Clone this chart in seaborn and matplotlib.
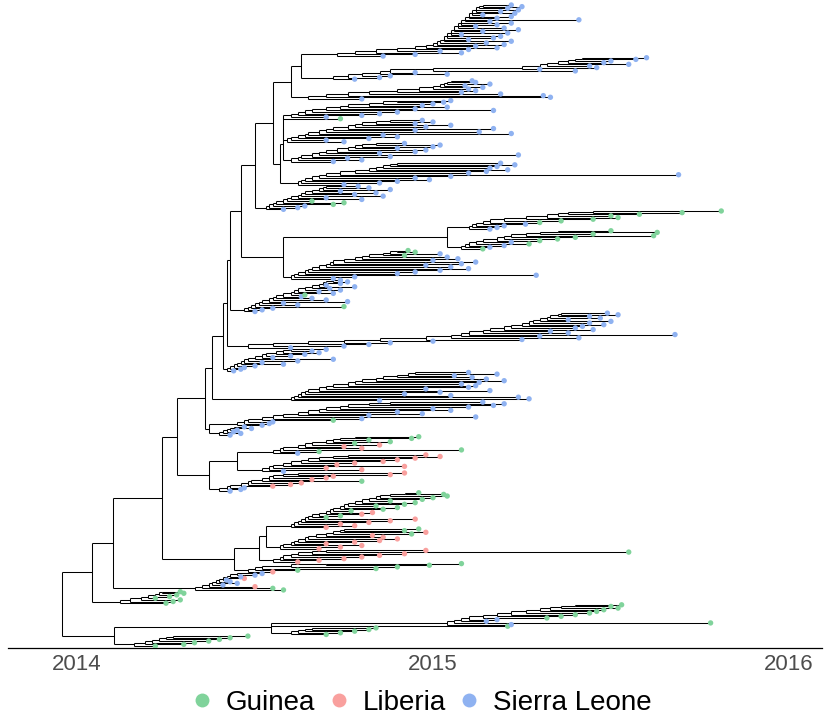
import pandas as pd
import matplotlib
matplotlib.use('Agg')
import matplotlib.pyplot as plt
from matplotlib.collections import LineCollection
from matplotlib.lines import Line2D
import seaborn as sns

# tip times / attach times are years after 2014.0; country codes G/L/S
k1_att = [0.16, 0.19, 0.21, 0.23, 0.25, 0.27]
k1_tip = [0.22, 0.30, 0.33, 0.37, 0.40, 0.43, 0.48]
k1_cty = 'GGGGGGG'
k2a_att = [0.60, 0.62, 0.64, 0.66]
k2a_tip = [0.70, 0.74, 0.78, 0.82, 0.84]
k2a_cty = 'GGGGG'
k2c_att = []
k2c_tip = [1.21]
k2c_cty = 'G'
k2b_att = [1.04, 1.06, 1.08, 1.10, 1.14, 1.18, 1.22, 1.26, 1.30, 1.33, 1.36, 1.40]
k2b_tip = [1.22, 1.78, 1.15, 1.18, 1.32, 1.36, 1.40, 1.44, 1.46, 1.48, 1.52, 1.50, 1.53]
k2b_cty = 'SGSSGGGGGGGGG'
j_att = [0.12, 0.15, 0.18, 0.20, 0.22, 0.23, 0.24]
j_tip = [0.25, 0.27, 0.29, 0.22, 0.26, 0.28, 0.30, 0.29]
j_cty = 'GGGGGGGG'
i_att = [0.33, 0.35, 0.37, 0.38, 0.39, 0.40, 0.41, 0.42, 0.43, 0.45]
i_tip = [0.58, 0.55, 0.50, 0.41, 0.45, 0.43, 0.42, 0.47, 0.46, 0.50, 0.52]
i_cty = 'GGLSSSSLSSS'
h1_att = [0.48, 0.50, 0.52, 0.60, 0.70]
h1_tip = [0.55, 0.62, 0.84, 0.90, 0.99, 1.08]
h1_cty = 'LGGGGG'
h2_att = [0.55, 0.57, 0.58, 0.60, 0.62, 0.66, 0.70]
h2_tip = [0.62, 0.68, 0.75, 0.80, 0.85, 0.92, 1.55, 0.98]
h2_cty = 'LLLLLLGL'
h3_att = [0.57, 0.58, 0.60, 0.61, 0.62, 0.64, 0.65, 0.67, 0.70, 0.72, 0.74, 0.75]
h3_tip = [0.68, 0.74, 0.80, 0.70, 0.78, 0.85, 0.90, 0.86, 0.83, 0.94, 0.98, 0.92, 0.96]
h3_cty = 'LLLLLLLLLGLGG'
h4_att = [0.60, 0.61, 0.62, 0.63, 0.64, 0.65, 0.66, 0.68, 0.70, 0.71, 0.72,
          0.74, 0.75, 0.76, 0.78, 0.80, 0.82, 0.84, 0.85, 0.88, 0.92]
h4_tip = [0.70, 0.78, 0.74, 0.82, 0.88, 0.95, 0.70, 0.74, 0.80, 0.83, 0.77,
          0.86, 0.90, 0.84, 0.92, 0.95, 0.88, 0.97, 1.00, 1.04, 1.03, 0.96]
h4_cty = 'LLLLLLGGLLGGGGGGGGGGGG'
g1_att = [0.40, 0.42, 0.43, 0.46, 0.48, 0.49, 0.52, 0.54, 0.55, 0.58, 0.62]
g1_tip = [0.43, 0.46, 0.47, 0.55, 0.60, 0.63, 0.80, 0.66, 0.70, 0.72, 0.88, 0.92]
g1_cty = 'SSSLLLGLLLLL'
g2_att = [0.52, 0.54, 0.55, 0.58, 0.60, 0.63, 0.65, 0.68, 0.72, 0.76]
g2_tip = [0.58, 0.80, 0.70, 0.92, 0.73, 0.78, 0.86, 0.90, 0.95, 1.02, 0.98]
g2_cty = 'SLLLLLLLLLL'
g3_att = [0.55, 0.57, 0.58, 0.62, 0.64, 0.66, 0.70, 0.72, 0.74, 0.78]
g3_tip = [0.62, 0.68, 1.08, 0.80, 0.75, 0.85, 0.78, 0.88, 0.82, 0.94, 0.96]
g3_cty = 'SGGLLLGGGGG'
f1_att = [0.40, 0.41, 0.42, 0.43, 0.44]
f1_tip = [0.43, 0.46, 0.44, 0.45, 0.49, 0.47]
f1_cty = 'SSSSSS'
f2_att = [0.45, 0.47, 0.48, 0.52, 0.55, 0.58, 0.62, 0.65, 0.68, 0.70, 0.74, 0.76, 0.82, 0.88]
f2_tip = [0.52, 0.54, 0.55, 0.72, 0.80, 1.12, 0.82, 0.97, 0.90, 1.05, 1.00, 1.10, 1.17, 1.20, 1.14]
f2_cty = 'SSSGSSSSSSSSSSS'
e_att = [0.60, 0.61, 0.62, 0.63, 0.64, 0.65, 0.68, 0.70, 0.72, 0.76, 0.78, 0.80,
         0.84, 0.86, 0.90, 0.93, 0.95]
e_tip = [0.85, 1.27, 1.24, 1.05, 0.92, 1.02, 1.16, 0.98, 1.10, 1.12, 1.08, 1.13,
         1.20, 1.15, 1.11, 1.06, 1.18, 1.10]
e_cty = 'S' * 18
d_att = [0.42, 0.43, 0.44, 0.45, 0.46, 0.47, 0.48, 0.50, 0.52, 0.53, 0.56, 0.58, 0.60]
d_tip = [0.44, 0.46, 0.47, 0.50, 0.58, 0.52, 0.62, 0.72, 0.55, 0.60, 0.64, 0.68, 0.66, 0.70]
d_cty = 'S' * 14
c_att = [0.48, 0.55, 0.65, 0.75, 0.85, 0.98, 1.05, 1.08, 1.10, 1.14, 1.16,
         1.20, 1.22, 1.25, 1.27, 1.28, 1.30, 1.32, 1.33, 1.35, 1.36]
c_tip = [0.60, 0.75, 0.82, 0.88, 1.00, 1.25, 1.41, 1.30, 1.68, 1.38, 1.33,
         1.45, 1.40, 1.42, 1.48, 1.44, 1.50, 1.38, 1.47, 1.44, 1.52, 1.49]
c_cty = 'S' * 22
bl_att = [0.47, 0.48, 0.49, 0.50, 0.51, 0.52, 0.54, 0.55, 0.56, 0.58, 0.60,
          0.61, 0.62, 0.64, 0.66, 0.68, 0.69, 0.70, 0.72]
bl_tip = [0.50, 0.52, 0.55, 0.75, 0.62, 0.58, 0.76, 0.70, 0.66, 0.63, 0.64,
          0.72, 0.68, 0.74, 0.71, 0.78, 0.70, 0.74, 0.76, 0.74]
bl_cty = 'SSSGSSSSSSGSSSSSSSSS'
b1_att = [0.60, 0.61, 0.62, 0.64, 0.65, 0.66, 0.68, 0.70, 0.71, 0.72, 0.75,
          0.78, 0.80, 0.82, 0.86, 0.88, 0.90]
b1_tip = [0.72, 0.78, 1.29, 0.90, 0.95, 1.02, 1.10, 1.05, 0.98, 1.08, 1.12,
          1.00, 1.07, 1.04, 0.92, 1.02, 0.95, 0.93]
b1_cty = 'SSSSSSSSSSSSSSGSGG'
b2a_att = [1.08, 1.09, 1.10, 1.12, 1.14, 1.18, 1.20, 1.22, 1.26, 1.30, 1.35]
b2a_tip = [1.14, 1.16, 1.20, 1.27, 1.22, 1.30, 1.35, 1.40, 1.62, 1.45, 1.63, 1.50]
b2a_cty = 'GSSGSGGGGGGG'
b2b_att = [1.10, 1.11, 1.12, 1.14, 1.16, 1.20, 1.26, 1.32, 1.35, 1.38, 1.45]
b2b_tip = [1.16, 1.18, 1.20, 1.26, 1.30, 1.36, 1.45, 1.52, 1.50, 1.58, 1.70, 1.81]
b2b_cty = 'SSSSGGGGGGGG'
ab_att = [0.53, 0.54, 0.55, 0.56, 0.58, 0.59, 0.60, 0.62, 0.63, 0.64, 0.66, 0.68, 0.69, 0.70]
ab_tip = [0.58, 0.62, 0.64, 0.72, 0.75, 0.66, 0.80, 0.70, 0.86, 0.78, 0.84, 0.74, 0.88, 0.82, 0.79]
ab_cty = 'SSSGGGSSSSSSSSS'
a4a_att = [0.62, 0.63, 0.64, 0.66, 0.68, 0.70, 0.74, 0.78, 0.82, 0.84, 0.86, 0.88, 0.90]
a4a_tip = [0.75, 0.85, 0.90, 0.99, 0.95, 1.05, 1.69, 1.10, 1.15, 1.21, 1.16, 1.18, 1.23, 1.19]
a4a_cty = 'S' * 14
a4b_att = [0.60, 0.62, 0.63, 0.66, 0.68, 0.70, 0.73, 0.76, 0.78, 0.80, 0.84]
a4b_tip = [0.72, 0.80, 0.76, 0.88, 1.24, 0.85, 0.95, 0.98, 0.90, 1.00, 1.02, 0.92]
a4b_cty = 'S' * 12
a4c_att = [0.59, 0.60, 0.62, 0.64, 0.65, 0.68, 0.70, 0.72, 0.76, 0.78, 0.80, 0.84, 0.88]
a4c_tip = [0.75, 0.70, 0.82, 0.90, 0.86, 1.22, 1.13, 0.95, 1.17, 0.98, 1.05, 0.95, 1.00, 0.97]
a4c_cty = 'S' * 14
a4d_att = [0.58, 0.60, 0.62, 0.64, 0.66, 0.70, 0.74, 0.76, 0.82, 0.86, 0.90]
a4d_tip = [0.74, 0.70, 0.80, 0.85, 0.90, 1.17, 0.95, 1.04, 0.97, 1.00, 1.03, 1.05]
a4d_cty = 'GSSSSSSSSSSS'
a3_att = [0.65, 0.70, 0.76, 0.82, 0.90, 0.96, 1.00, 1.02, 1.03, 1.04, 1.05]
a3_tip = [0.80, 1.33, 1.31, 1.19, 1.08, 1.12, 1.10, 1.14, 1.09, 1.16, 1.12, 1.11]
a3_cty = 'S' * 12
a2_att = [0.72, 0.76, 0.80, 0.85, 0.88, 1.00, 1.25, 1.30, 1.32, 1.35, 1.38, 1.40, 1.42]
a2_tip = [0.78, 0.85, 0.88, 1.04, 0.95, 1.40, 1.30, 1.46, 1.44, 1.55, 1.48, 1.50, 1.57, 1.60]
a2_cty = 'S' * 14
a1_att = [0.73, 0.78, 0.84, 0.90, 0.95, 0.98, 1.00, 1.01, 1.02, 1.03, 1.03,
          1.04, 1.04, 1.05, 1.05, 1.06, 1.06, 1.07, 1.07, 1.08, 1.08, 1.09,
          1.09, 1.10, 1.10, 1.11, 1.11, 1.12, 1.12, 1.13, 1.14]
a1_tip = [0.86, 0.95, 1.08, 1.02, 1.10, 1.18, 1.12, 1.20, 1.15, 1.22, 1.10,
          1.17, 1.19, 1.08, 1.21, 1.14, 1.24, 1.20, 1.12, 1.18, 1.22, 1.16,
          1.41, 1.18, 1.22, 1.14, 1.23, 1.19, 1.24, 1.21, 1.25, 1.22]
a1_cty = 'S' * 32

# backbone (ladder going up the tree) and the clades hanging off it
bb_times = [0.10, 0.24, 0.28, 0.36, 0.38, 0.41, 0.42, 0.43, 0.46, 0.50]
bb_clades = ['I', 'H', 'G', 'F', 'E', 'D', 'C', 'Bl', 'B', 'Ab', 'A']

FANS = {
    'K1': (k1_att, k1_tip, k1_cty), 'K2a': (k2a_att, k2a_tip, k2a_cty),
    'K2c': (k2c_att, k2c_tip, k2c_cty), 'K2b': (k2b_att, k2b_tip, k2b_cty),
    'J': (j_att, j_tip, j_cty), 'I': (i_att, i_tip, i_cty),
    'H1': (h1_att, h1_tip, h1_cty), 'H2': (h2_att, h2_tip, h2_cty),
    'H3': (h3_att, h3_tip, h3_cty), 'H4': (h4_att, h4_tip, h4_cty),
    'G1': (g1_att, g1_tip, g1_cty), 'G2': (g2_att, g2_tip, g2_cty),
    'G3': (g3_att, g3_tip, g3_cty), 'F1': (f1_att, f1_tip, f1_cty),
    'F2': (f2_att, f2_tip, f2_cty), 'E': (e_att, e_tip, e_cty),
    'D': (d_att, d_tip, d_cty), 'C': (c_att, c_tip, c_cty),
    'Bl': (bl_att, bl_tip, bl_cty), 'B1': (b1_att, b1_tip, b1_cty),
    'B2a': (b2a_att, b2a_tip, b2a_cty), 'B2b': (b2b_att, b2b_tip, b2b_cty),
    'Ab': (ab_att, ab_tip, ab_cty), 'A4a': (a4a_att, a4a_tip, a4a_cty),
    'A4b': (a4b_att, a4b_tip, a4b_cty), 'A4c': (a4c_att, a4c_tip, a4c_cty),
    'A4d': (a4d_att, a4d_tip, a4d_cty), 'A3': (a3_att, a3_tip, a3_cty),
    'A2': (a2_att, a2_tip, a2_cty), 'A1': (a1_att, a1_tip, a1_cty),
}

NODES = {
    'root': (-0.042, ['K', 'U']),
    'K': (0.104, ['K1', 'K2']),
    'K2': (0.545, ['K2a', 'K2c', 'K2b']),
    'U': (0.042, ['J', 'BB']),
    'H': (0.44, ['H1', 'Hx']), 'Hx': (0.51, ['H2', 'Hy']), 'Hy': (0.53, ['H3', 'H4']),
    'G': (0.37, ['G1', 'Gx']), 'Gx': (0.45, ['G2', 'G3']),
    'F': (0.37, ['F1', 'F2']),
    'B': (0.58, ['B1', 'B2']), 'B2': (1.04, ['B2a', 'B2b']),
    'A': (0.55, ['A4', 'Ax']), 'A4': (0.57, ['A4a', 'A4x']),
    'A4x': (0.58, ['A4b', 'A4y']), 'A4y': (0.58, ['A4c', 'A4d']),
    'Ax': (0.60, ['A3', 'Ay']), 'Ay': (0.63, ['A2', 'A1']),
}

COUNTRY = {'G': 'Guinea', 'L': 'Liberia', 'S': 'Sierra Leone'}
PALETTE = {'Guinea': '#80D39B', 'Liberia': '#F9A09E', 'Sierra Leone': '#8FB2F1'}


def fan_tree(att, tip, cty):
    leaves = [{'t': t, 'c': COUNTRY[c]} for t, c in zip(tip, cty)]
    if len(leaves) == 1:
        return leaves[0]
    node = {'t': att[-1], 'kids': leaves[-2:]}
    for k in range(len(leaves) - 3, -1, -1):
        node = {'t': att[k], 'kids': [leaves[k], node]}
    return node


def build(name):
    if name in FANS:
        return fan_tree(*FANS[name])
    if name == 'BB':
        cl = [build(c) for c in bb_clades]
        node = {'t': bb_times[-1], 'kids': cl[-2:]}
        for k in range(len(cl) - 3, -1, -1):
            node = {'t': bb_times[k], 'kids': [cl[k], node]}
        return node
    t, kids = NODES[name]
    return {'t': t, 'kids': [build(k) for k in kids]}


tree = build('root')

# layout: tips numbered from the bottom, parents at mean of children
tips = []
segs = []


def layout(node):
    if 'kids' not in node:
        node['y'] = len(tips)
        tips.append(node)
        return
    for k in node['kids']:
        layout(k)
    ys = [k['y'] for k in node['kids']]
    node['y'] = sum(ys) / len(ys)


layout(tree)


def collect(node, parent_t=None):
    x = 2014 + node['t']
    if parent_t is not None:
        segs.append([(2014 + parent_t, node['y']), (x, node['y'])])
    if 'kids' in node:
        ys = [k['y'] for k in node['kids']]
        segs.append([(x, min(ys)), (x, max(ys))])
        for k in node['kids']:
            collect(k, node['t'])


collect(tree)

df = pd.DataFrame({'x': [2014 + t['t'] for t in tips],
                   'y': [t['y'] for t in tips],
                   'country': [t['c'] for t in tips]})

sns.set_style('white')
plt.rcParams['font.family'] = ['Liberation Sans', 'DejaVu Sans']

fig = plt.figure(figsize=(8.3, 7.26), dpi=100)
ax = fig.add_axes([8 / 830, 78 / 726, 814 / 830, 646 / 726])

ax.add_collection(LineCollection(segs, colors='black', linewidths=0.75, zorder=2))
sns.scatterplot(data=df, x='x', y='y', hue='country', palette=PALETTE,
                s=15, linewidth=0, legend=False, ax=ax, zorder=3)

n = len(tips) - 1
per_px = n / 641
ax.set_xlim(2013.806, 2016.093)
ax.set_ylim(-2 * per_px, n + 3 * per_px)

for side in ['left', 'right', 'top']:
    ax.spines[side].set_visible(False)
ax.spines['bottom'].set_color('black')
ax.spines['bottom'].set_linewidth(0.9)
ax.set_yticks([])
ax.set_xticks([2014, 2015, 2016])
ax.set_xticklabels(['2014', '2015', '2016'])
ax.tick_params(axis='x', length=3, width=0.8, color='#333333',
               labelsize=16, labelcolor='#4D4D4D', pad=1.5)
ax.set_xlabel('')
ax.set_ylabel('')

handles = [Line2D([], [], marker='o', linestyle='', markersize=10,
                  markerfacecolor=PALETTE[c], markeredgewidth=0, label=c)
           for c in ['Guinea', 'Liberia', 'Sierra Leone']]
fig.legend(handles=handles, loc='center', bbox_to_anchor=(0.51, 23 / 726),
           ncol=3, frameon=False, fontsize=20, handlelength=0.5,
           handletextpad=0.6, columnspacing=0.6, borderpad=0,
           labelcolor='black')

fig.savefig('out.png', dpi=100)
